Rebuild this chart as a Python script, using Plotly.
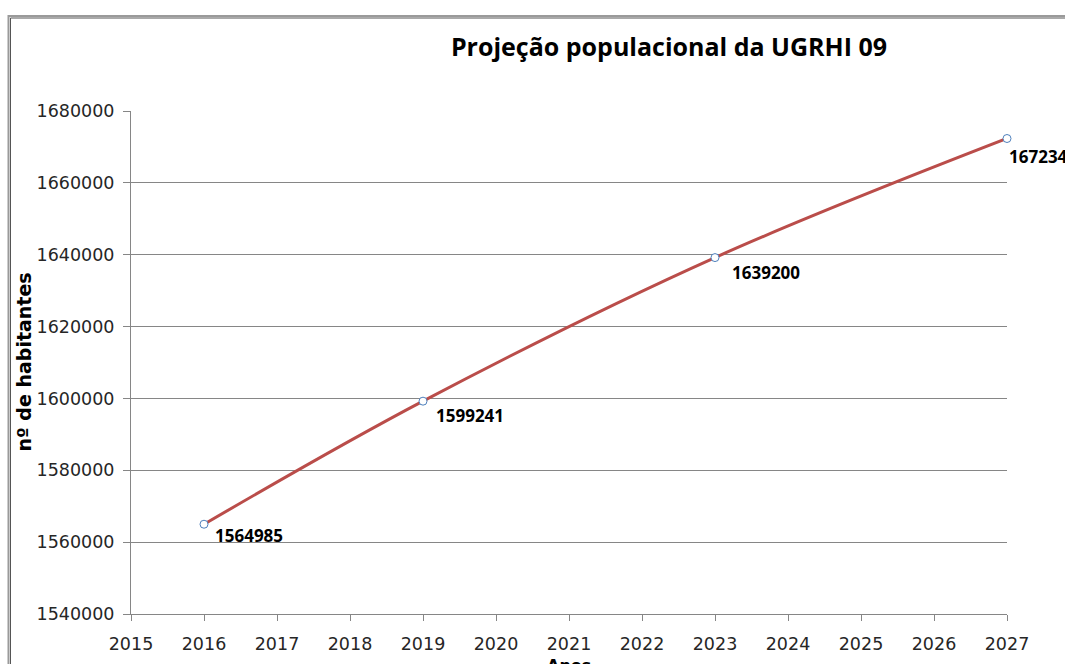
import plotly.graph_objects as go

# Data
anos = [2016, 2019, 2023, 2027]
habitantes = [1564985, 1599241, 1639200, 1672342]
rotulos = ["1564985", "1599241", "1639200", "1672342"]
titulo = "Projeção populacional da UGRHI 09"
titulo_y = "nº de habitantes"
titulo_x = "Anos"
y_ticks = [1540000, 1560000, 1580000, 1600000, 1620000, 1640000, 1660000, 1680000]
x_ticks = list(range(2015, 2028))

# label placement (pixels from each marker)
rotulo_dx = [9, 11, 15, 0]
rotulo_dy = [11, 14, 15, 18]

W, H = 1065, 664
L, R, T, B = 131, 58, 111, 50
PW, PH = W - L - R, H - T - B

def px(x):
    return (x - L) / PW

def py(y):
    return (H - B - y) / PH

fig = go.Figure()
fig.add_trace(go.Scatter(
    x=anos, y=habitantes, mode="lines+markers",
    line=dict(color="#BA4D4A", width=3, shape="spline", smoothing=1.0),
    marker=dict(symbol="circle", size=8, color="white",
                line=dict(color="#4F81BD", width=1)),
    cliponaxis=False, showlegend=False,
))

for a, h, t, dx, dy in zip(anos, habitantes, rotulos, rotulo_dx, rotulo_dy):
    fig.add_annotation(x=a, y=h, text=t, showarrow=False, xanchor="left",
                       yanchor="middle", xshift=dx, yshift=-dy,
                       font=dict(family="Open Sans", size=17, color="#000000", weight="bold"))

fig.add_annotation(xref="paper", yref="paper", x=px(23), y=0.5, text=titulo_y,
                   textangle=-90, showarrow=False, xanchor="center", yanchor="middle",
                   font=dict(family="DejaVu Sans", size=19, color="#000000", weight="bold"))
fig.add_annotation(xref="paper", yref="paper", x=0.5, y=py(654), text=titulo_x,
                   showarrow=False, xanchor="center", yanchor="top",
                   font=dict(family="DejaVu Sans", size=16, color="#000000", weight="bold"))

# outer chart border
fig.add_shape(type="rect", xref="paper", yref="paper",
              x0=px(8.5), x1=px(1090), y0=py(690), y1=py(16),
              line=dict(color="#9a9a9a", width=2))
fig.add_shape(type="rect", xref="paper", yref="paper",
              x0=px(10.5), x1=px(1090), y0=py(690), y1=py(18),
              line=dict(color="#555555", width=1))

tick_font = dict(family="DejaVu Sans", size=17.5, color="#262626")

fig.update_layout(
    width=W, height=H,
    margin=dict(l=L, r=R, t=T, b=B, autoexpand=False),
    paper_bgcolor="white", plot_bgcolor="white",
    title=dict(text=titulo, x=669 / W, xref="container", xanchor="center",
               y=1 - 47 / H, yref="container", yanchor="middle",
               font=dict(family="Open Sans", size=25, color="#000000", weight="bold")),
    xaxis=dict(range=[2015, 2027], tickvals=x_ticks, ticktext=[str(v) for v in x_ticks],
               showgrid=False, zeroline=False, showline=True, linecolor="#868686",
               linewidth=1, ticks="outside", ticklen=6, tickcolor="#868686",
               ticklabelstandoff=8, tickfont=tick_font, automargin=False),
    yaxis=dict(range=[1540000, 1680000], tickvals=y_ticks, ticktext=[str(v) for v in y_ticks],
               showgrid=True, gridcolor="#868686", gridwidth=1, zeroline=False,
               showline=True, linecolor="#868686", linewidth=1, ticks="outside",
               ticklen=7, tickcolor="#868686", ticklabelstandoff=5,
               tickfont=tick_font, automargin=False),
)

fig.write_html("out.html", config={"displayModeBar": False},
               post_script="document.body.style.margin='0';document.body.style.overflow='hidden';")
